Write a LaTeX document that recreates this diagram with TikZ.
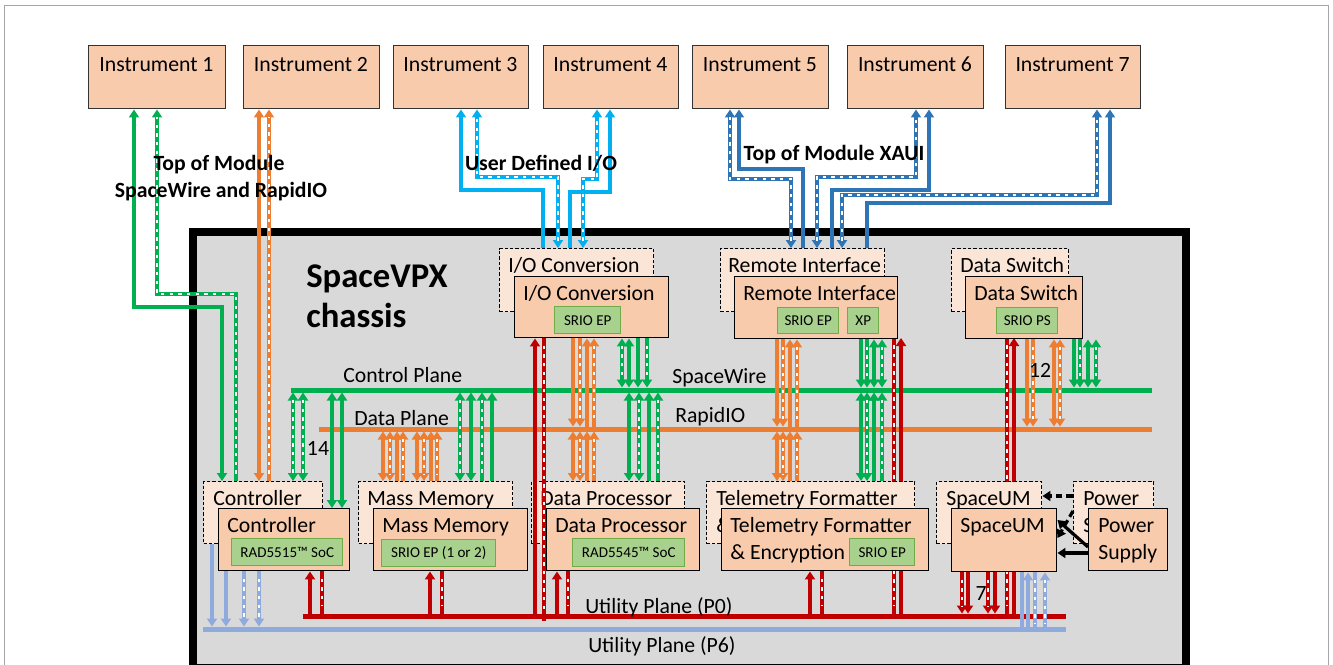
\documentclass[tikz,border=0pt]{standalone}
\usepackage{fontspec}
\setmainfont{Carlito}
\usetikzlibrary{arrows.meta}
\definecolor{cgreen}{HTML}{00B050}
\definecolor{corange}{HTML}{ED7D31}
\definecolor{ccyan}{HTML}{00B0F0}
\definecolor{cblue}{HTML}{2E75B6}
\definecolor{cred}{HTML}{C00000}
\definecolor{clblue}{HTML}{8FAADC}
\definecolor{cfront}{HTML}{F8CBAD}
\definecolor{cback}{HTML}{FBE5D6}
\definecolor{cgbox}{HTML}{A9D18E}
\definecolor{cgbord}{HTML}{70AD47}
\definecolor{cchassis}{HTML}{D9D9D9}
\newcommand\bx[6]{\node[#2, anchor=north west, minimum width={(#5-#3)*0.75pt}, minimum height={(#6-#4)*0.75pt}] (#1) at (#3,#4) {};}
\newcommand\bxt[7]{\node[#2, anchor=north west, minimum width={(#5-#3)*0.75pt}, minimum height={(#6-#4)*0.75pt}] (#1) at (#3,#4) {#7};}
\newcommand\tl[4]{\node[txt, anchor=base west] (#1) at (#2,#3) {#4};}
\newcommand\tc[4]{\node[txt, anchor=base] (#1) at (#2,#3) {#4};}
\newcommand\vc[4]{\draw[#1] (#2,0 |- #3) -- (#2,0 |- #4);}
\tikzset{
  >={Triangle[width=7.5pt,length=6pt]},
  txt/.style={inner sep=0pt, font=\fontsize{16.3}{19}\selectfont},
  btxt/.style={inner sep=0pt, font=\fontsize{16.3}{19}\selectfont\bfseries},
  inst/.style={draw=black!80, line width=1.1pt, fill=cfront, inner sep=0pt},
  front/.style={draw=black, line width=1.1pt, fill=cfront, inner sep=0pt},
  back/.style={draw=black, line width=1.1pt, dash pattern=on 2.5pt off 1.5pt, fill=cback, inner sep=0pt},
  gbox/.style={draw=cgbord, line width=1.1pt, fill=cgbox, inner sep=0pt, font=\fontsize{11.3}{13}\selectfont},
  sl/.style={line width=2.4pt, draw=#1},
  dl/.style={line width=2.4pt, draw=#1, postaction={draw=white, line width=1.3pt, dash pattern=on 2.5pt off 4pt, shorten <=5.5pt, shorten >=5.5pt, -}},
  plane/.style={line width=3.75pt, draw=#1},
  blk/.style={line width=2.4pt, draw=black},
  blkd/.style={line width=2.4pt, draw=black, dash pattern=on 5pt off 3pt},
}
\begin{document}
\begin{tikzpicture}[x=0.75pt,y=-0.75pt]
\useasboundingbox (0,0) rectangle (1333,664);
\draw[black!35, line width=0.75pt] (4,5) rectangle (1328,670);
% chassis
\node[draw=black, line width=6pt, fill=cchassis, anchor=north west, minimum width={(1182-189)*0.75pt}, minimum height={(664-228)*0.75pt}, inner sep=0pt] (chassis) at (189,228) {};
\node[btxt, font=\fontsize{26}{30}\selectfont\bfseries, anchor=base west] (title1) at (306,287) {SpaceVPX};
\node[btxt, font=\fontsize{26}{30}\selectfont\bfseries, anchor=base west] (title2) at (306,327) {chassis};
% instruments
\bx{inst1}{inst}{88}{45}{225}{108}
\bx{inst2}{inst}{243}{45}{379}{108}
\bx{inst3}{inst}{393}{45}{528}{108}
\bx{inst4}{inst}{543}{45}{678}{108}
\bx{inst5}{inst}{692}{45}{828}{108}
\bx{inst6}{inst}{847}{45}{983}{108}
\bx{inst7}{inst}{1005}{45}{1140}{108}
\tc{ti1}{156.5}{71}{Instrument 1}
\tc{ti2}{311}{71}{Instrument 2}
\tc{ti3}{460.5}{71}{Instrument 3}
\tc{ti4}{610.5}{71}{Instrument 4}
\tc{ti5}{760}{71}{Instrument 5}
\tc{ti6}{915}{71}{Instrument 6}
\tc{ti7}{1072.5}{71}{Instrument 7}
% planes
\coordinate (cpL) at (291,390); \coordinate (cpR) at (1152,390);
\coordinate (dpL) at (319,429); \coordinate (dpR) at (1152,429);
\coordinate (p0L) at (303,616); \coordinate (p0R) at (1066,616);
\coordinate (p6L) at (203,629); \coordinate (p6R) at (1066,629);
\coordinate (cpT) at (0,387.5); \coordinate (cpB) at (0,392.5);
\coordinate (dpT) at (0,426.5); \coordinate (dpB) at (0,431.5);
\coordinate (p0T) at (0,613.5); \coordinate (p0X) at (0,621);
\coordinate (p6T) at (0,626.5); \coordinate (p6B) at (0,631.5);
\draw[plane=cgreen] (cpL) -- (cpR);
\draw[plane=corange] (dpL) -- (dpR);
\draw[plane=cred] (p0L) -- (p0R);
\draw[plane=clblue] (p6L) -- (p6R);
\tl{lcp}{343}{382}{Control Plane}
\tl{lsw}{672}{383}{SpaceWire}
\tl{ldp}{354}{425}{Data Plane}
\tl{lrio}{675}{422}{RapidIO}
\tl{lp0}{585}{613}{Utility Plane (P0)}
\tl{lp6}{588}{652}{Utility Plane (P6)}
% lines passing behind modules
\coordinate (riS) at (0,338); \coordinate (dsS) at (0,338);
\vc{dl=cred}{894}{riS}{p0T}
\vc{sl=cred,<-}{901}{riS}{p0T}
\vc{dl=cred}{1007}{dsS}{p0T}
\vc{sl=cred,<-}{1014}{dsS}{p0T}
% modules top row
\bx{ioD}{back}{499}{248}{653}{311}
\tl{tioD}{508}{272}{I/O Conversion}
\bx{ioF}{front}{514}{276}{668}{337}
\tl{tioF}{523}{300}{I/O Conversion}
\bxt{ioG}{gbox}{554}{306}{620}{333}{SRIO EP}
\bx{riD}{back}{720}{248}{884}{311}
\tl{triD}{728}{272}{Remote Interface}
\bx{riF}{front}{734}{276}{897}{338}
\tl{triF}{743}{300}{Remote Interface}
\bxt{riG1}{gbox}{777}{307}{838}{333}{SRIO EP}
\bxt{riG2}{gbox}{847}{307}{878}{333}{XP}
\bx{dsD}{back}{951}{248}{1068}{311}
\tl{tdsD}{960}{272}{Data Switch}
\bx{dsF}{front}{965}{276}{1082}{338}
\tl{tdsF}{974}{300}{Data Switch}
\bxt{dsG}{gbox}{996}{307}{1057}{333}{SRIO PS}
% modules bottom row
\bx{ctlD}{back}{203}{481}{322}{543}
\tl{tctlD}{213}{505}{Controller}
\bx{ctlF}{front}{218}{508}{349}{570}
\tl{tctlF}{227}{532}{Controller}
\bxt{ctlG}{gbox}{231}{538}{342}{565}{RAD5515™ SoC}
\bx{mmD}{back}{358}{481}{512}{543}
\tl{tmmD}{367}{505}{Mass Memory}
\bx{mmF}{front}{373}{508}{527}{570}
\tl{tmmF}{382}{532}{Mass Memory}
\bxt{mmG}{gbox}{381}{539}{495}{566}{SRIO EP (1 or 2)}
\bx{dpD}{back}{531}{481}{684}{543}
\tl{tdpD}{540}{505}{Data Processor}
\bx{dpF}{front}{546}{508}{699}{570}
\tl{tdpF}{555}{532}{Data Processor}
\bxt{dpG}{gbox}{572}{538}{684}{566}{RAD5545™ SoC}
\bx{tfD}{back}{706}{481}{914}{543}
\tl{ttfD1}{716}{505}{Telemetry Formatter}
\tl{ttfD2}{716}{532}{\&}
\bx{tfF}{front}{721}{508}{928}{570}
\tl{ttfF1}{730}{532}{Telemetry Formatter}
\tl{ttfF2}{730}{559}{\& Encryption}
\bxt{tfG}{gbox}{849}{538}{914}{565}{SRIO EP}
\bx{suD}{back}{936}{481}{1041}{543}
\tl{tsuD}{946}{505}{SpaceUM}
\bx{suF}{front}{951}{508}{1056}{571}
\tl{tsuF}{960}{532}{SpaceUM}
\bx{psD}{back}{1073}{481}{1153}{543}
\tl{tpsD1}{1083}{505}{Power}
\tl{tpsD2}{1083}{532}{S}
\bx{psF}{front}{1088}{508}{1167}{570}
\tl{tpsF1}{1098}{532}{Power}
\tl{tpsF2}{1098}{559}{Supply}
% instrument links
\draw[sl=cgreen,<->] (222,0 |- ctlD.north) -- (222,307) -- (134,307) -- (134,0 |- inst1.south);
\draw[dl=cgreen,->] (236,0 |- ctlD.north) -- (236,294) -- (157,294) -- (157,0 |- inst1.south);
\draw[sl=corange,<->] (259,0 |- ctlD.north) -- (259,0 |- inst2.south);
\draw[dl=corange,->] (269,0 |- ctlD.north) -- (269,0 |- inst2.south);
\draw[sl=ccyan,->] (543,0 |- ioD.north) -- (543,190) -- (461,190) -- (461,0 |- inst3.south);
\draw[dl=ccyan,<->] (558,0 |- ioD.north) -- (558,177) -- (477,177) -- (477,0 |- inst3.south);
\draw[sl=ccyan,->] (570,0 |- ioD.north) -- (570,192) -- (610,192) -- (610,0 |- inst4.south);
\draw[dl=ccyan,<->] (583,0 |- ioD.north) -- (583,179) -- (597,179) -- (597,0 |- inst4.south);
\draw[dl=cblue,<->] (791,0 |- riD.north) -- (791,179) -- (730,179) -- (730,0 |- inst5.south);
\draw[sl=cblue,->] (803,0 |- riD.north) -- (803,169) -- (739,169) -- (739,0 |- inst5.south);
\draw[dl=cblue,<->] (817,0 |- riD.north) -- (817,177) -- (916,177) -- (916,0 |- inst6.south);
\draw[sl=cblue,->] (832,0 |- riD.north) -- (832,190) -- (929,190) -- (929,0 |- inst6.south);
\draw[dl=cblue,<->] (842,0 |- riD.north) -- (842,195) -- (1097,195) -- (1097,0 |- inst7.south);
\draw[sl=cblue,->] (867,0 |- riD.north) -- (867,203) -- (1110,203) -- (1110,0 |- inst7.south);
\node[btxt, anchor=base] (lt1) at (219,170) {Top of Module};
\node[btxt, anchor=base] (lt2) at (221,197) {SpaceWire and RapidIO};
\node[btxt, anchor=base] (lt3) at (541,170) {User Defined I/O};
\node[btxt, anchor=base] (lt4) at (834,160) {Top of Module XAUI};
% controller
\vc{dl=cgreen,<->}{293}{cpB}{ctlD.north}
\vc{dl=cgreen,<->}{303}{cpB}{ctlD.north}
\vc{sl=cgreen,<->}{332}{cpB}{ctlF.north}
\vc{sl=cgreen,<->}{342}{cpB}{ctlF.north}
\tc{n14}{318}{455}{14}
% mass memory
\vc{sl=corange,<->}{383}{dpB}{mmD.north}
\vc{dl=corange,<->}{390}{dpB}{mmD.north}
\vc{sl=corange,<-}{397}{dpB}{mmD.north}
\vc{dl=corange,<-}{403}{dpB}{mmD.north}
\vc{sl=corange,<->}{417}{dpB}{mmD.north}
\vc{dl=corange,<->}{424}{dpB}{mmD.north}
\vc{sl=corange,<-}{431}{dpB}{mmD.north}
\vc{dl=corange,<-}{437}{dpB}{mmD.north}
\vc{dl=cgreen,<->}{460}{cpB}{mmD.north}
\vc{sl=cgreen,<->}{471}{cpB}{mmD.north}
\vc{dl=cgreen,<-}{482}{cpB}{mmD.north}
\vc{sl=cgreen,<-}{492}{cpB}{mmD.north}
% I/O conversion
\vc{sl=cred,->}{535}{p0T}{ioF.south}
\vc{dl=cred}{544}{ioF.south}{p0X}
\vc{sl=corange,->}{573}{ioF.south}{dpT}
\vc{dl=corange,->}{580}{ioF.south}{dpT}
\vc{sl=corange,<-}{587}{ioF.south}{dpT}
\vc{dl=corange,<-}{594}{ioF.south}{dpT}
\vc{sl=corange,<->}{573}{dpB}{dpD.north}
\vc{dl=corange,<->}{580}{dpB}{dpD.north}
\vc{sl=corange,<-}{587}{dpB}{dpD.north}
\vc{dl=corange,<-}{594}{dpB}{dpD.north}
\vc{dl=cgreen,<->}{622}{ioF.south}{cpT}
\vc{sl=cgreen,<->}{629}{ioF.south}{cpT}
\vc{sl=cgreen,->}{638}{ioF.south}{cpT}
\vc{dl=cgreen,->}{647}{ioF.south}{cpT}
\vc{sl=cgreen,<->}{629}{cpB}{dpD.north}
\vc{dl=cgreen,<->}{639}{cpB}{dpD.north}
\vc{sl=cgreen,<-}{649}{cpB}{dpD.north}
\vc{dl=cgreen,<-}{658}{cpB}{dpD.north}
% remote interface
\vc{sl=corange,->}{777}{riF.south}{dpT}
\vc{dl=corange,->}{783}{riF.south}{dpT}
\vc{sl=corange,<-}{790}{riF.south}{dpT}
\vc{dl=corange,<-}{797}{riF.south}{dpT}
\vc{sl=corange,<->}{777}{dpB}{tfD.north}
\vc{dl=corange,<->}{783}{dpB}{tfD.north}
\vc{sl=corange,<-}{790}{dpB}{tfD.north}
\vc{dl=corange,<-}{797}{dpB}{tfD.north}
\vc{sl=cgreen,->}{861}{riF.south}{cpT}
\vc{dl=cgreen,->}{867}{riF.south}{cpT}
\vc{sl=cgreen,<->}{874}{riF.south}{cpT}
\vc{dl=cgreen,<->}{882}{riF.south}{cpT}
\vc{sl=cgreen,<->}{861}{cpB}{tfD.north}
\vc{dl=cgreen,<->}{867}{cpB}{tfD.north}
\vc{sl=cgreen,<-}{874}{cpB}{tfD.north}
\vc{dl=cgreen,<-}{882}{cpB}{tfD.north}
% data switch
\vc{sl=corange,->}{1027}{dsF.south}{dpT}
\vc{dl=corange,->}{1033}{dsF.south}{dpT}
\vc{sl=corange,<->}{1054}{dsF.south}{dpT}
\vc{dl=corange,<->}{1060}{dsF.south}{dpT}
\vc{sl=cgreen,->}{1074}{dsF.south}{cpT}
\vc{dl=cgreen,->}{1080}{dsF.south}{cpT}
\vc{sl=cgreen,<->}{1088}{dsF.south}{cpT}
\vc{dl=cgreen,<->}{1096}{dsF.south}{cpT}
\tc{n12}{1040}{377}{12}
% bottom utility links
\vc{sl=clblue,->}{212}{ctlD.south}{p6T}
\vc{sl=clblue,->}{226}{ctlF.south}{p6T}
\vc{dl=clblue,->}{244}{ctlF.south}{p6T}
\vc{dl=clblue,->}{259}{ctlF.south}{p6T}
\vc{sl=cred,<-}{310}{ctlF.south}{p0T}
\vc{dl=cred}{322}{ctlF.south}{p0T}
\vc{sl=cred,<-}{430}{mmF.south}{p0T}
\vc{dl=cred}{442}{mmF.south}{p0T}
\vc{sl=cred,<-}{557}{dpF.south}{p0T}
\vc{dl=cred}{568}{dpF.south}{p0T}
\vc{sl=cred,<-}{810}{tfF.south}{p0T}
\vc{dl=cred}{822}{tfF.south}{p0T}
\vc{dl=cred,->}{962}{suF.south}{p0T}
\vc{sl=cred,->}{968}{suF.south}{p0T}
\vc{dl=cred,->}{988}{suF.south}{p0T}
\vc{sl=cred,->}{995}{suF.south}{p0T}
\tc{n7}{981}{600}{7}
\vc{sl=clblue}{1022}{suF.south}{p6B}
\vc{sl=clblue,<-}{1028}{suF.south}{p6B}
\vc{dl=clblue}{1035}{suF.south}{p6B}
\vc{dl=clblue,<-}{1045}{suF.south}{p6B}
% power links
\draw[blkd,->] (psD.west |- 0,496) -- (suD.east |- 0,496);
\draw[blk,->] (psF.west |- 0,553) -- (suF.east |- 0,553);
\draw[blk,->] (psF.west |- 0,547) -- (suF.east |- 0,520);
\draw[blkd,->] (psD.west |- 0,511) -- (suF.east |- 0,538);
\end{tikzpicture}
\end{document}
